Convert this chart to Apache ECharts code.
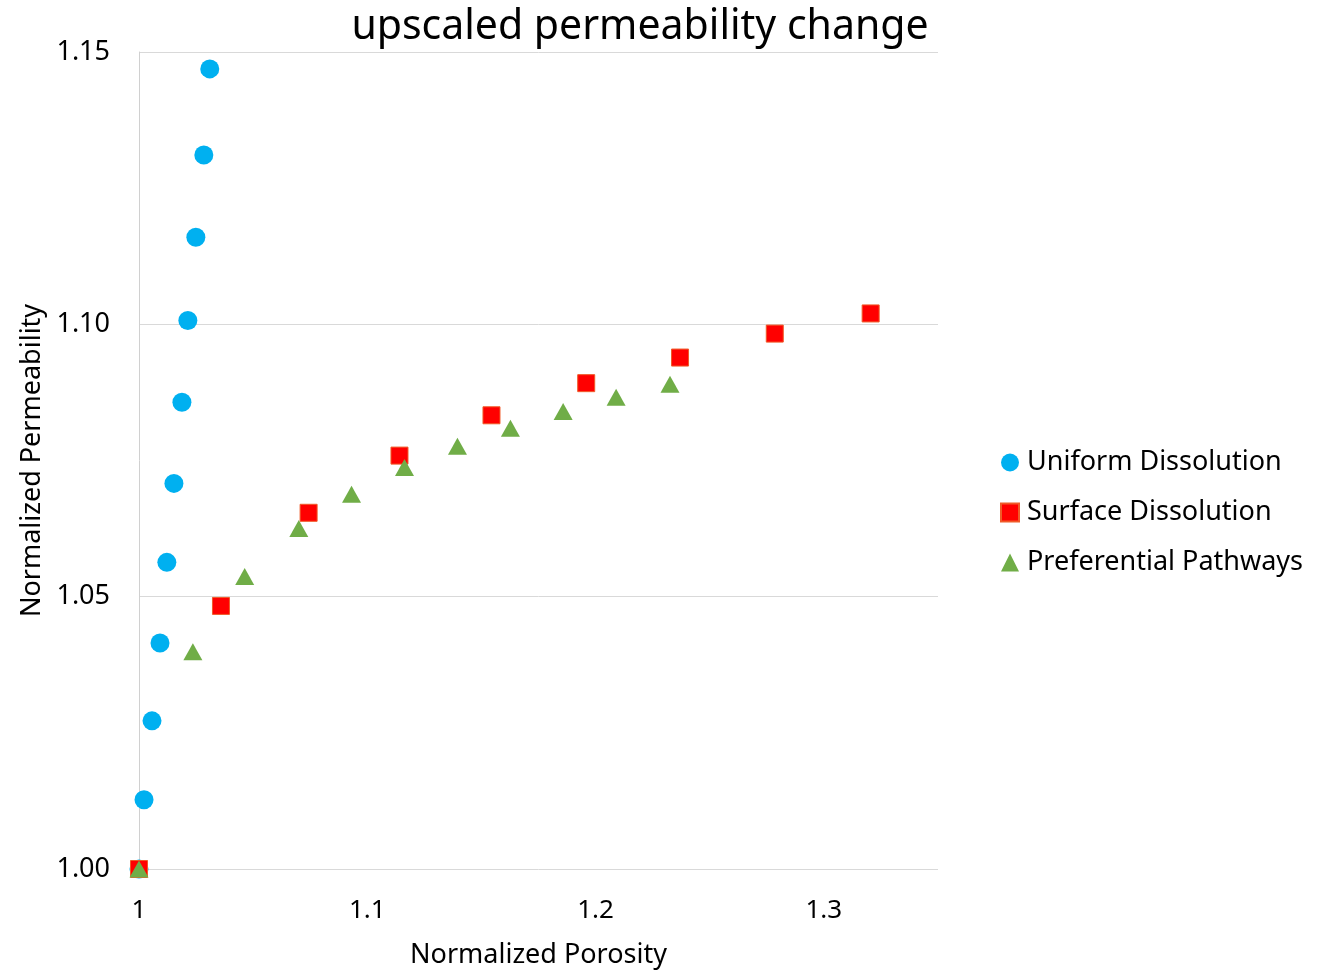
<!DOCTYPE html>
<html>
<head>
<meta charset="utf-8">
<script src="https://cdn.jsdelivr.net/npm/echarts@6/dist/echarts.min.js"></script>
<style>
html,body{margin:0;padding:0;background:#fff;overflow:hidden;}
#chart{width:1326px;height:970px;}
</style>
</head>
<body>
<div id="chart"></div>
<script>
const uniformX = [1.0, 1.0022, 1.0057, 1.0092, 1.0122, 1.0153, 1.0188, 1.0214, 1.0249, 1.0284, 1.0310];
const uniformY = [1.0, 1.0127, 1.0272, 1.0415, 1.0563, 1.0708, 1.0857, 1.1007, 1.1160, 1.1311, 1.1469];
const surfaceX = [1.0, 1.0359, 1.0743, 1.1141, 1.1544, 1.1959, 1.2370, 1.2785, 1.3205];
const surfaceY = [1.0, 1.0483, 1.0654, 1.0759, 1.0833, 1.0892, 1.0939, 1.0983, 1.1020];
const prefX = [1.0, 1.0236, 1.0463, 1.0700, 1.0931, 1.1163, 1.1395, 1.1627, 1.1858, 1.2090, 1.2326];
const prefY = [1.0, 1.0399, 1.0537, 1.0625, 1.0688, 1.0737, 1.0776, 1.0809, 1.0840, 1.0866, 1.0890];
const seriesNames = ['Uniform Dissolution', 'Surface Dissolution', 'Preferential Pathways'];

const zip = (xs, ys) => xs.map((x, i) => [x, ys[i]]);
const FONT = 'Noto Sans';

const chart = echarts.init(document.getElementById('chart'), null, {renderer: 'canvas'});
chart.setOption({
  backgroundColor: '#fff',
  animation: false,
  title: {
    text: 'upscaled permeability change',
    left: 635, top: 2,
    textAlign: 'center',
    textStyle: {fontFamily: FONT, fontSize: 41, fontWeight: 'normal', color: '#000'}
  },
  grid: {left: 139, top: 52, width: 799, height: 817, containLabel: false, outerBoundsMode: 'none'},
  legend: {
    orient: 'vertical',
    left: 1000, top: 449, padding: 0,
    itemWidth: 18, itemHeight: 18, itemGap: 23,
    data: [
      {name: seriesNames[0], icon: 'circle'},
      {name: seriesNames[1], icon: 'rect'},
      {name: seriesNames[2], icon: 'triangle'}
    ],
    textStyle: {fontFamily: FONT, fontSize: 27, color: '#000', padding: [0, 0, 0, 3]}
  },
  xAxis: {
    type: 'value', min: 1, max: 1.35, interval: 0.1,
    name: 'Normalized Porosity', nameLocation: 'middle', nameGap: 73,
    nameTextStyle: {fontFamily: FONT, fontSize: 27, color: '#000'},
    axisLine: {show: false}, axisTick: {show: false}, splitLine: {show: false},
    axisLabel: {fontFamily: FONT, fontSize: 26, color: '#000', margin: 29, showMaxLabel: false,
      formatter: v => String(Math.round(v * 10) / 10)}
  },
  yAxis: {
    type: 'value', min: 1, max: 1.15, interval: 0.05,
    name: 'Normalized Permeability', nameLocation: 'middle', nameGap: 93,
    nameTextStyle: {fontFamily: FONT, fontSize: 27, color: '#000'},
    axisLine: {show: true, lineStyle: {color: '#d0d0d0', width: 1}}, axisTick: {show: false},
    splitLine: {show: true, lineStyle: {color: '#d9d9d9', width: 1}},
    axisLabel: {fontFamily: FONT, fontSize: 27, color: '#000', margin: 29, formatter: v => v.toFixed(2)}
  },
  series: [
    {name: seriesNames[0], type: 'scatter', symbol: 'circle', symbolSize: 19,
     itemStyle: {color: '#00B0F0', opacity: 1}, data: zip(uniformX, uniformY)},
    {name: seriesNames[1], type: 'scatter', symbol: 'rect', symbolSize: 17,
     itemStyle: {color: '#FF0000', borderColor: '#F05A28', borderWidth: 1, opacity: 1}, data: zip(surfaceX, surfaceY)},
    {name: seriesNames[2], type: 'scatter', symbol: 'triangle', symbolSize: [19, 17],
     itemStyle: {color: '#70AD47', opacity: 1}, data: zip(prefX, prefY)}
  ]
});
</script>
</body>
</html>
